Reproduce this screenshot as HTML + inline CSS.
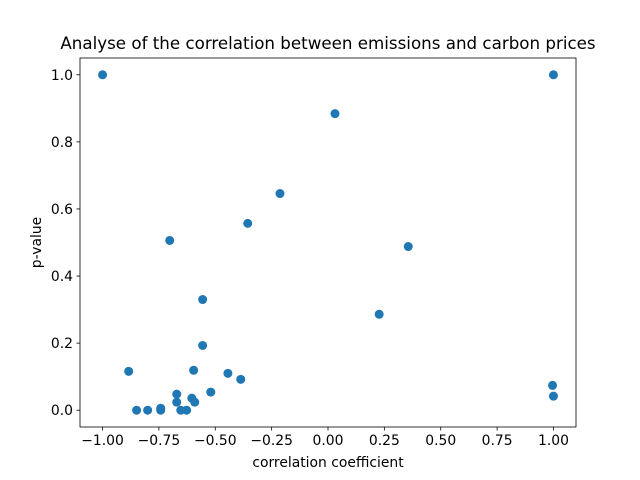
<!DOCTYPE html>
<html><head><meta charset="utf-8"><style>body{margin:0;background:#fff}svg{display:block;font-family:"DejaVu Sans","Liberation Sans",sans-serif}</style></head>
<body>
<svg id="c" width="640" height="480"></svg>
<script>
const xVals=[-1,1,0.031,-0.213,-0.356,-0.702,0.356,-0.556,0.227,-0.556,-0.884,-0.596,-0.444,-0.387,0.996,-0.52,-0.671,-0.604,-0.671,-0.591,1.0,-0.742,-0.742,-0.849,-0.8,-0.653,-0.627];
const yVals=[1,1,0.884,0.646,0.557,0.506,0.488,0.330,0.286,0.193,0.116,0.119,0.110,0.092,0.074,0.054,0.048,0.036,0.024,0.024,0.042,0.006,0.0,0.0,0.0,0.0,0.0];
const xTicks=[-1,-0.75,-0.5,-0.25,0,0.25,0.5,0.75,1];
const xTickLabels=["−1.00","−0.75","−0.50","−0.25","0.00","0.25","0.50","0.75","1.00"];
const yTicks=[0,0.2,0.4,0.6,0.8,1.0];
const yTickLabels=["0.0","0.2","0.4","0.6","0.8","1.0"];
const L=80,R=576,T=58,B=427,x0=-1.1,x1=1.1,y0=-0.05,y1=1.05;
const sx=v=>L+(v-x0)/(x1-x0)*(R-L), sy=v=>B-(v-y0)/(y1-y0)*(B-T);
const svg=document.getElementById('c'),NS='http://www.w3.org/2000/svg';
function mk(t,a,txt){const e=document.createElementNS(NS,t);for(const k in a)e.setAttribute(k,a[k]);if(txt!==undefined)e.textContent=txt;svg.appendChild(e);return e;}
xVals.forEach((v,i)=>{const e=mk('circle',{cx:sx(v),cy:sy(yVals[i]),r:4.5,fill:'#1f77b4'});

});
const f=mk('rect',{x:L,y:T,width:R-L,height:B-T,fill:'none',stroke:'#000','stroke-width':0.8});


xTicks.forEach((v,i)=>{const x=sx(v);mk('line',{x1:x,x2:x,y1:B,y2:B+3.5,stroke:'#000','stroke-width':0.8});
const t=mk('text',{x:x,y:B+18,'text-anchor':'middle','font-size':13.9},xTickLabels[i]);

});
yTicks.forEach((v,i)=>{const y=sy(v);mk('line',{x1:L-3.5,x2:L,y1:y,y2:y,stroke:'#000','stroke-width':0.8});
const t=mk('text',{x:L-7,y:y+5,'text-anchor':'end','font-size':13.9},yTickLabels[i]);

});
const xt=mk('text',{x:(L+R)/2,y:467,'text-anchor':'middle','font-size':13.9},'correlation coefficient');


const yt=mk('text',{x:0,y:0,'text-anchor':'middle','font-size':13.9,transform:`translate(41,${(T+B)/2}) rotate(-90)`},'p-value');


const tt=mk('text',{x:(L+R)/2,y:49,'text-anchor':'middle','font-size':16.7},'Analyse of the correlation between emissions and carbon prices');


</script>
</body></html>
